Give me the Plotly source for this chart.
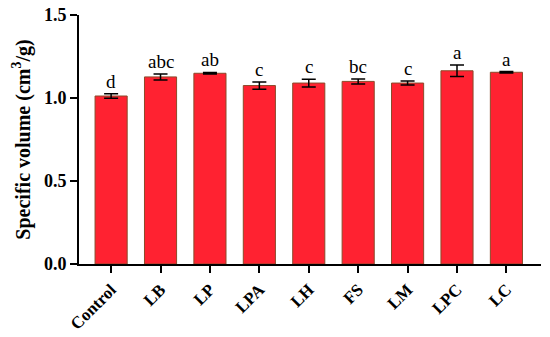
import plotly.graph_objects as go

groups = ["Control", "LB", "LP", "LPA", "LH", "FS", "LM", "LPC", "LC"]
volume = [1.012, 1.127, 1.149, 1.075, 1.090, 1.100, 1.090, 1.164, 1.155]
volume_sd = [0.014, 0.018, 0.005, 0.022, 0.023, 0.015, 0.012, 0.035, 0.004]
letters = ["d", "abc", "ab", "c", "c", "bc", "c", "a", "a"]

font_family = "Liberation Serif, Times New Roman, serif"

fig = go.Figure()
fig.add_trace(go.Bar(
    x=groups, y=volume,
    width=0.65,
    marker=dict(color="#FF2231", line=dict(color="#8B4A2A", width=1)),
    error_y=dict(type="data", array=volume_sd, visible=True,
                 color="#000000", thickness=1.5, width=7),
))

# significance letters above each error bar
for g, v, sd, lab in zip(groups, volume, volume_sd, letters):
    fig.add_annotation(
        x=g, y=v + sd, text=lab, showarrow=False,
        yanchor="bottom", yshift=0,
        font=dict(family=font_family, size=19, color="#000000"),
    )

fig.update_layout(
    width=550, height=337,
    margin=dict(l=79, r=9, t=15, b=73),
    paper_bgcolor="white",
    plot_bgcolor="white",
    showlegend=False,
    font=dict(family=font_family, color="#000000"),
)
fig.update_xaxes(
    range=[-0.65, 8.7], automargin=False,
    showline=True, linecolor="#000000", linewidth=2,
    ticks="outside", ticklen=7, tickwidth=2, tickcolor="#000000",
    tickangle=-45,
    tickfont=dict(family=font_family, size=17, color="#000000", weight="bold"),
    showgrid=False,
)
fig.update_yaxes(
    range=[0, 1.5], automargin=False,
    tickvals=[0, 0.5, 1.0, 1.5],
    ticktext=["0.0", "0.5", "1.0", "1.5"],
    ticklabeloverflow="allow",
    showline=True, linecolor="#000000", linewidth=2,
    ticks="outside", ticklen=7, tickwidth=2, tickcolor="#000000",
    tickfont=dict(family=font_family, size=18, color="#000000", weight="bold"),
    showgrid=False, zeroline=False,
    title=dict(text="Specific volume (cm<sup>3</sup>/g)",
               font=dict(family=font_family, size=20, color="#000000", weight="bold"),
               standoff=8),
)

# drop the default 8px page margin so the figure fills the window
fig.write_html("out.html", config={"displayModeBar": False},
               post_script="document.body.style.margin='0';")
